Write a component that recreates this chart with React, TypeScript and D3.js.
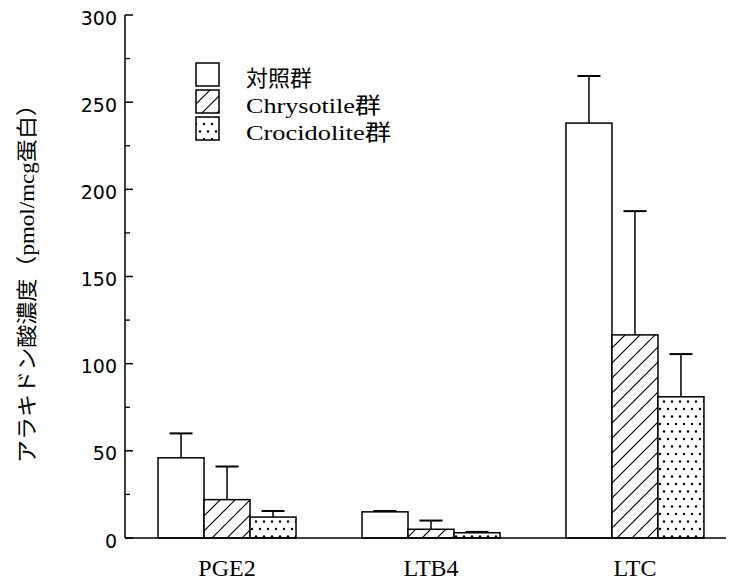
import React from 'react';
import * as d3 from 'd3';

const categories = ['PGE2', 'LTB4', 'LTC'];
const seriesNames = ['対照群', 'Chrysotile群', 'Crocidolite群'];
const controlValues = [46, 15, 238];
const controlErrors = [60, 15.5, 265];
const chrysotileValues = [22, 5, 116.5];
const chrysotileErrors = [41, 10, 187.5];
const crocidoliteValues = [12, 3, 81];
const crocidoliteErrors = [15.5, 3.5, 105.5];
const yTicks = [0, 50, 100, 150, 200, 250, 300];
const yMinorTicks = [25, 75, 125, 175, 225, 275];
const yTitle = 'アラキドン酸濃度（pmol/mcg蛋白）';

const series = [
  { name: seriesNames[0], values: controlValues, errors: controlErrors, fill: '#fff' },
  { name: seriesNames[1], values: chrysotileValues, errors: chrysotileErrors, fill: 'url(#hatch)' },
  { name: seriesNames[2], values: crocidoliteValues, errors: crocidoliteErrors, fill: 'url(#dots)' },
];

const legendWidths = [66, 135, 145];

export default function App() {
  const W = 729, H = 584;
  const y = d3.scaleLinear().domain([0, 300]).range([538, 15]);
  const x0 = d3.scaleBand<string>().domain(categories).range([125, 737]).paddingInner(0.3235).paddingOuter(0.162);
  const x1 = d3.scaleBand<string>().domain(seriesNames).range([0, x0.bandwidth()]);
  const axisX = 125;
  const serif = '"Liberation Serif", "Noto Sans CJK JP", serif';
  const capW = 23;

  return (
    <svg width={W} height={H} style={{ position: 'absolute', left: 0, top: 0, background: '#fff' }}>
      <defs>
        <pattern id="hatch" patternUnits="userSpaceOnUse" width={15} height={15}>
          <rect width={15} height={15} fill="#fff" />
          <path d="M0,15 L15,0 M-4,4 L4,-4 M11,19 L19,11" stroke="#000" strokeWidth={1.2} />
        </pattern>
        <pattern id="dots" patternUnits="userSpaceOnUse" width={16} height={15}>
          <rect width={16} height={15} fill="#fff" />
          <circle cx={4} cy={4} r={1.2} fill="#000" />
          <circle cx={12} cy={4} r={1.2} fill="#000" />
          <circle cx={0} cy={11.5} r={1.2} fill="#000" />
          <circle cx={8} cy={11.5} r={1.2} fill="#000" />
          <circle cx={16} cy={11.5} r={1.2} fill="#000" />
        </pattern>
      </defs>

      {/* bars */}
      {categories.map((c, ci) => (
        <g key={c}>
          {series.map((s) => {
            const bx = (x0(c) as number) + (x1(s.name) as number);
            const bw = x1.bandwidth();
            const cx = bx + bw / 2;
            const top = y(s.values[ci]);
            const et = y(s.errors[ci]);
            return (
              <g key={s.name}>
                <line x1={cx} x2={cx} y1={top} y2={et} stroke="#000" strokeWidth={1.5} />
                <line x1={cx - capW / 2} x2={cx + capW / 2} y1={et} y2={et} stroke="#000" strokeWidth={2} />
                <rect x={bx} y={top} width={bw} height={y(0) - top} fill={s.fill} stroke="#000" strokeWidth={1.5} />
              </g>
            );
          })}
          <text x={(x0(c) as number) + x0.bandwidth() / 2} y={576} textAnchor="middle"
            fontFamily='"Liberation Serif", serif' fontSize={24} fill="#000">{c}</text>
        </g>
      ))}

      {/* axes */}
      <line x1={axisX} x2={726} y1={y(0)} y2={y(0)} stroke="#000" strokeWidth={1.5} />
      <line x1={axisX} x2={axisX} y1={y(0)} y2={y(300)} stroke="#000" strokeWidth={1.5} />
      {yTicks.map((t) => (
        <g key={t}>
          <line x1={axisX} x2={axisX + 8} y1={y(t)} y2={y(t)} stroke="#000" strokeWidth={1.5} />
          <text x={117} y={y(t) + 4} textAnchor="end" dominantBaseline="middle"
            fontFamily='"DejaVu Sans", sans-serif' fontSize={19} fill="#000">{t}</text>
        </g>
      ))}
      {yMinorTicks.map((t) => (
        <line key={t} x1={axisX} x2={axisX + 5} y1={y(t)} y2={y(t)} stroke="#000" strokeWidth={1.3} />
      ))}

      {/* y title */}
      <text transform="translate(34,278) rotate(-90)" textAnchor="middle"
        fontFamily={serif} fontSize={21} fill="#000" textLength={370} lengthAdjust="spacingAndGlyphs">{yTitle}</text>

      {/* legend */}
      {series.map((s, i) => (
        <g key={s.name}>
          <rect x={196} y={63 + i * 27} width={23} height={23} fill={s.fill} stroke="#000" strokeWidth={1.5} />
          <text x={246} y={86 + i * 27} fontFamily={serif} fontSize={22} fill="#000"
            textLength={legendWidths[i]} lengthAdjust="spacingAndGlyphs">{s.name}</text>
        </g>
      ))}
    </svg>
  );
}
